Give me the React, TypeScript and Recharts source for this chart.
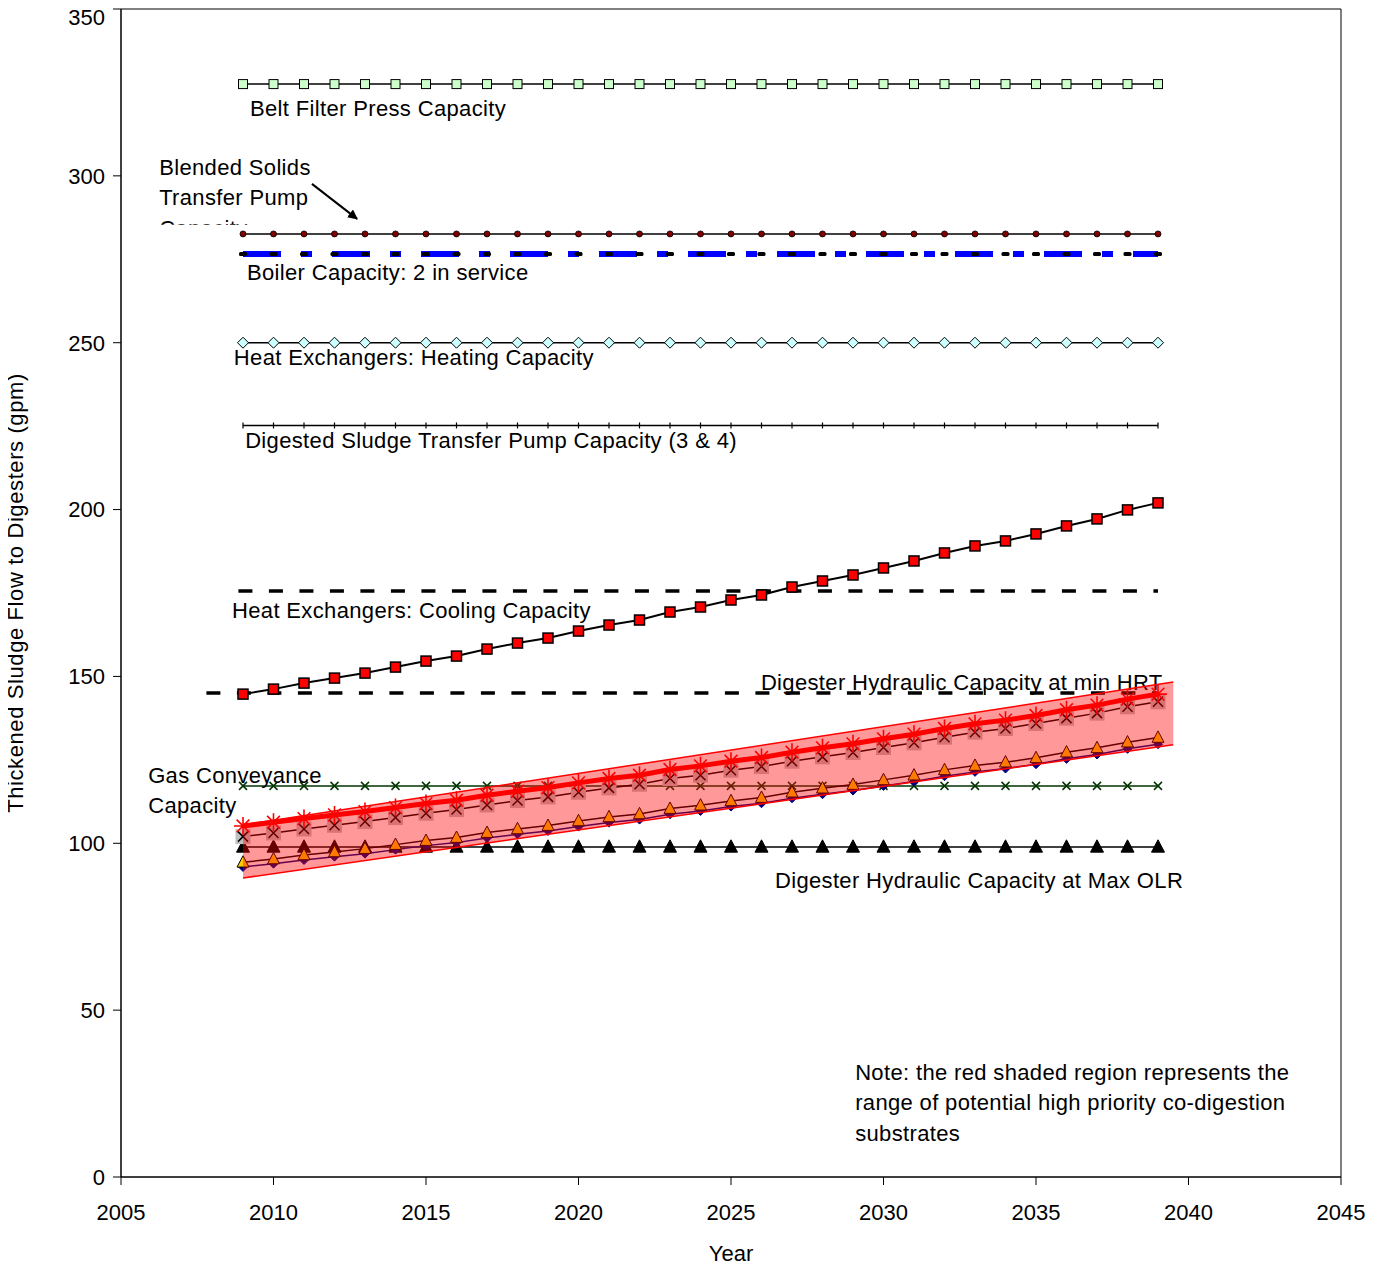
import React from 'react';
import { ComposedChart, Line, Area, XAxis, YAxis, ReferenceArea, ReferenceDot, ReferenceLine } from 'recharts';

const FONT = '"Liberation Sans", Arial, sans-serif';
const W = 1373;
const H = 1261;

// projection years
const years = [
  2009, 2010, 2011, 2012, 2013, 2014, 2015, 2016, 2017, 2018, 2019, 2020, 2021, 2022, 2023, 2024,
  2025, 2026, 2027, 2028, 2029, 2030, 2031, 2032, 2033, 2034, 2035, 2036, 2037, 2038, 2039,
];

// thickened sludge flow, gpm
const flowBaseline = [
  144.7, 146.2, 148.0, 149.5, 151.0, 152.8, 154.6, 156.1, 158.2, 160.0, 161.5, 163.6, 165.4, 166.9, 169.3, 170.8,
  172.9, 174.4, 176.8, 178.6, 180.4, 182.5, 184.6, 187.0, 189.1, 190.6, 192.7, 195.1, 197.2, 199.9, 202.0,
];
const flowCoDigHigh = [
  105.2, 106.3, 107.4, 108.5, 109.5, 110.7, 111.9, 112.9, 114.4, 115.6, 116.7, 118.1, 119.4, 120.4, 122.1, 123.2,
  124.6, 125.7, 127.3, 128.6, 129.8, 131.3, 132.7, 134.4, 135.8, 136.9, 138.3, 140.0, 141.4, 143.2, 144.7,
];
const flowCoDigMidHigh = [
  102.0, 103.1, 104.3, 105.4, 106.5, 107.7, 109.0, 110.1, 111.5, 112.8, 113.9, 115.3, 116.6, 117.7, 119.4, 120.4,
  121.9, 123.0, 124.6, 125.9, 127.2, 128.7, 130.1, 131.8, 133.3, 134.4, 135.9, 137.5, 139.0, 140.9, 142.4,
];
const flowCoDigMidLow = [
  94.3, 95.3, 96.5, 97.4, 98.4, 99.6, 100.8, 101.7, 103.2, 104.3, 105.3, 106.7, 107.9, 108.8, 110.4, 111.4,
  112.7, 113.7, 115.3, 116.5, 117.6, 119.0, 120.4, 122.0, 123.3, 124.3, 125.6, 127.3, 128.6, 130.3, 131.7,
];
const flowCoDigLow = [
  92.9, 93.9, 95.0, 96.0, 96.9, 98.1, 99.3, 100.2, 101.6, 102.7, 103.7, 105.0, 106.2, 107.1, 108.7, 109.7,
  111.0, 112.0, 113.5, 114.7, 115.8, 117.2, 118.5, 120.1, 121.4, 122.4, 123.7, 125.3, 126.6, 128.3, 129.7,
];

// facility capacities, gpm
const beltFilterPressCap = 327.5;
const blendedPumpCap = 282.6;
const boilerCap = 276.6;
const heatingCap = 250;
const digestedPumpCap = 225.2;
const coolingCap = 175.6;
const minHrtCap = 145;
const gasCap = 117.2;
const maxOlrCap = 98.9;
const coolingStart = 2008.85;
const minHrtStart = 2007.8;

// co-digestion range envelope
const bandYears = [2009, 2039.5];
const bandLow = [89.6, 129.5];
const bandHigh = [105.5, 148.3];

const xTicks = [2005, 2010, 2015, 2020, 2025, 2030, 2035, 2040, 2045];
const yTicks = [0, 50, 100, 150, 200, 250, 300, 350];

type Row = { year: number; [k: string]: any };
const rowMap = new Map<number, Row>();
const row = (yr: number) => {
  if (!rowMap.has(yr)) rowMap.set(yr, { year: yr });
  return rowMap.get(yr)!;
};
years.forEach((yr, i) =>
  Object.assign(row(yr), {
    belt: beltFilterPressCap,
    blended: blendedPumpCap,
    boiler: boilerCap,
    heating: heatingCap,
    digested: digestedPumpCap,
    cooling: coolingCap,
    minHrt: minHrtCap,
    gas: gasCap,
    maxOlr: maxOlrCap,
    baseline: flowBaseline[i],
    high: flowCoDigHigh[i],
    midHigh: flowCoDigMidHigh[i],
    midLow: flowCoDigMidLow[i],
    low: flowCoDigLow[i],
  })
);
row(coolingStart).cooling = coolingCap;
row(minHrtStart).minHrt = minHrtCap;
bandYears.forEach((yr, i) => {
  row(yr).band = [bandLow[i], bandHigh[i]];
});
const chartData = [...rowMap.values()].sort((a, b) => a.year - b.year);

// ---- marker shapes ----
const ok = (p: any) => p.cx != null && p.cy != null && p.value != null && !Number.isNaN(p.cy);
const empty = (p: any) => <g key={`e${p.index}`} />;

const squareDot = (s: number, fill: string, stroke: string, sw = 1) => (p: any) =>
  ok(p) ? (
    <rect key={p.index} x={p.cx - s / 2} y={p.cy - s / 2} width={s} height={s} fill={fill} stroke={stroke} strokeWidth={sw} />
  ) : empty(p);

const circleDot = (r: number, fill: string) => (p: any) =>
  ok(p) ? <circle key={p.index} cx={p.cx} cy={p.cy} r={r} fill={fill} stroke="#000" strokeWidth={0.8} /> : empty(p);

const diamondDot = (h: number, fill: string, stroke: string) => (p: any) =>
  ok(p) ? (
    <polygon
      key={p.index}
      points={`${p.cx},${p.cy - h} ${p.cx + h},${p.cy} ${p.cx},${p.cy + h} ${p.cx - h},${p.cy}`}
      fill={fill}
      stroke={stroke}
      strokeWidth={1}
    />
  ) : empty(p);

const triangleDot = (w: number, fill: string, stroke: string) => (p: any) =>
  ok(p) ? (
    <polygon
      key={p.index}
      points={`${p.cx},${p.cy - w * 0.55} ${p.cx + w / 2},${p.cy + w * 0.4} ${p.cx - w / 2},${p.cy + w * 0.4}`}
      fill={fill}
      stroke={stroke}
      strokeWidth={1}
    />
  ) : empty(p);

const crossDot = (h: number, color: string, sw = 1.5) => (p: any) =>
  ok(p) ? (
    <path key={p.index} d={`M${p.cx - h},${p.cy - h}L${p.cx + h},${p.cy + h}M${p.cx - h},${p.cy + h}L${p.cx + h},${p.cy - h}`} stroke={color} strokeWidth={sw} />
  ) : empty(p);

const plusDot = (h: number) => (p: any) =>
  ok(p) ? <path key={p.index} d={`M${p.cx},${p.cy - h}L${p.cx},${p.cy + h}`} stroke="#000" strokeWidth={1.2} /> : empty(p);

const dashDot = (p: any) =>
  ok(p) ? <rect key={p.index} x={p.cx - 4} y={p.cy - 2} width={8} height={4} rx={1.5} fill="#000" /> : empty(p);

const grayBoxX = (p: any) =>
  ok(p) ? (
    <g key={p.index}>
      <rect x={p.cx - 7.5} y={p.cy - 7.5} width={15} height={15} fill="#c0c0c0" />
      <path d={`M${p.cx - 5},${p.cy - 5}L${p.cx + 5},${p.cy + 5}M${p.cx - 5},${p.cy + 5}L${p.cx + 5},${p.cy - 5}`} stroke="#000" strokeWidth={1.5} />
    </g>
  ) : empty(p);

const asteriskDot = (p: any) => {
  if (!ok(p)) return empty(p);
  const r = 9;
  const d = [0, 45, 90, 135]
    .map((a) => {
      const dx = r * Math.cos((a * Math.PI) / 180);
      const dy = r * Math.sin((a * Math.PI) / 180);
      return `M${p.cx - dx},${p.cy - dy}L${p.cx + dx},${p.cy + dy}`;
    })
    .join('');
  return <path key={p.index} d={d} stroke="#ff0000" strokeWidth={1.6} />;
};

// y tick labels drawn at the tick position, no edge nudging
const YTick = (p: any) => (
  <text x={p.x} y={p.y} dy="0.36em" textAnchor="end" fontSize={22} fontFamily={FONT} fill="#000">
    {p.payload.value}
  </text>
);

// ---- text annotations ----
const TextBlock = (props: any) => {
  const { viewBox, lines, clipLast, lh = 30.5 } = props;
  if (!viewBox) return null;
  const x = viewBox.x + viewBox.width / 2;
  const y = viewBox.y + viewBox.height / 2;
  const clipId = `clip-${lines[0].replace(/\W/g, '')}`;
  return (
    <g>
      {clipLast && (
        <defs>
          <clipPath id={clipId}>
            <rect x={x - 5} y={y + (lines.length - 1) * lh - 30} width={300} height={19} />
          </clipPath>
        </defs>
      )}
      {lines.map((t: string, i: number) => (
        <text
          key={i}
          x={x}
          y={y + i * lh}
          fontSize={22}
          letterSpacing={0.35}
          fontFamily={FONT}
          fill="#000"
          clipPath={clipLast && i === lines.length - 1 ? `url(#${clipId})` : undefined}
        >
          {t}
        </text>
      ))}
    </g>
  );
};

const notes: { x: number; y: number; lines: string[]; clipLast?: boolean }[] = [
  { x: 2009.23, y: 317.95, lines: ['Belt Filter Press Capacity'] },
  { x: 2006.25, y: 300.3, lines: ['Blended Solids', 'Transfer Pump', 'Capacity'], clipLast: true },
  { x: 2009.13, y: 268.8, lines: ['Boiler Capacity: 2 in service'] },
  { x: 2008.7, y: 243.3, lines: ['Heat Exchangers: Heating Capacity'] },
  { x: 2009.07, y: 218.5, lines: ['Digested Sludge Transfer Pump Capacity (3 & 4)'] },
  { x: 2008.64, y: 167.5, lines: ['Heat Exchangers: Cooling Capacity'] },
  { x: 2025.98, y: 145.9, lines: ['Digester Hydraulic Capacity at min HRT'] },
  { x: 2005.89, y: 118.1, lines: ['Gas Conveyance', 'Capacity'] },
  { x: 2026.44, y: 86.6, lines: ['Digester Hydraulic Capacity at Max OLR'] },
  {
    x: 2029.07,
    y: 29.1,
    lines: ['Note: the red shaded region represents the', 'range of potential high priority co-digestion', 'substrates'],
  },
];

const arrowFrom = { x: 2011.26, y: 297.6 };
const arrowTo = { x: 2012.74, y: 287.1 };

const tickStyle = { fontSize: 22, fill: '#000', fontFamily: FONT };
const plotMargin = { top: 1, right: 32, left: 58, bottom: 32 };

export default function App() {
  return (
    <div style={{ position: 'relative', width: W, height: H, marginLeft: -8, fontFamily: FONT }}>
      <style>{'.recharts-surface{overflow:visible}'}</style>
      {/* base layer: axes, capacities and flow projections */}
      <ComposedChart width={W} height={H} data={chartData} margin={plotMargin}>
        <defs>
          <marker id="arrowHead" viewBox="0 0 10 10" refX="9" refY="5" markerWidth="5" markerHeight="5" orient="auto">
            <path d="M0,0L10,5L0,10z" fill="#000" />
          </marker>
        </defs>
        <XAxis
          dataKey="year"
          type="number"
          domain={[2005, 2045]}
          ticks={xTicks}
          allowDataOverflow
          height={60}
          tickSize={8}
          tickMargin={19}
          stroke="#000"
          tick={tickStyle}
          label={{
            content: (p: any) => (
              <text x={p.viewBox.x + p.viewBox.width / 2} y={p.viewBox.y + 84} textAnchor="middle" fontSize={22} fontFamily={FONT} fill="#000">
                Year
              </text>
            ),
          }}
        />
        <YAxis
          type="number"
          domain={[0, 350]}
          ticks={yTicks}
          width={63}
          tickSize={8}
          tickMargin={8}
          stroke="#000"
          tick={YTick}
          label={{
            content: (p: any) => {
              const cx = p.viewBox.x - 43;
              const cy = p.viewBox.y + p.viewBox.height / 2;
              return (
                <text
                  x={cx}
                  y={cy}
                  transform={`rotate(-90 ${cx} ${cy})`}
                  textAnchor="middle"
                  dominantBaseline="central"
                  fontSize={22}
                  letterSpacing={0.6}
                  fontFamily={FONT}
                  fill="#000"
                >
                  Thickened Sludge Flow to Digesters (gpm)
                </text>
              );
            },
          }}
        />
        <ReferenceArea x1={2005} x2={2045} y1={0} y2={350} fill="none" stroke="#000" strokeWidth={1} />

        <Line dataKey="belt" stroke="#000" strokeWidth={1.5} dot={squareDot(9, '#ccffcc', '#000')} activeDot={false} isAnimationActive={false} />
        <Line dataKey="blended" stroke="#000" strokeWidth={1.5} dot={circleDot(3, '#800000')} activeDot={false} isAnimationActive={false} />
        <Line dataKey="boiler" stroke="#0000ff" strokeWidth={6} strokeDasharray="38 20 11 20" dot={false} activeDot={false} isAnimationActive={false} />
        <Line dataKey="boiler" stroke="none" dot={dashDot} activeDot={false} isAnimationActive={false} />
        <Line dataKey="heating" stroke="#000" strokeWidth={1.5} dot={diamondDot(5.5, '#ccffff', '#000')} activeDot={false} isAnimationActive={false} />
        <Line dataKey="digested" stroke="#000" strokeWidth={1.5} dot={plusDot(3)} activeDot={false} isAnimationActive={false} />
        <Line dataKey="baseline" stroke="#000" strokeWidth={2} dot={squareDot(10, '#ff0000', '#000', 1.5)} activeDot={false} isAnimationActive={false} />
        <Line dataKey="cooling" stroke="#000" strokeWidth={3.5} strokeDasharray="14 16.5" dot={false} connectNulls activeDot={false} isAnimationActive={false} />
        <Line dataKey="minHrt" stroke="#000" strokeWidth={3.5} strokeDasharray="14 16.5" dot={false} connectNulls activeDot={false} isAnimationActive={false} />
        <Line dataKey="gas" stroke="#003300" strokeWidth={1.5} dot={crossDot(4, '#003300')} activeDot={false} isAnimationActive={false} />
        <Line dataKey="maxOlr" stroke="#000" strokeWidth={1.5} dot={triangleDot(13, '#000', '#000')} activeDot={false} isAnimationActive={false} />
        <Line dataKey="low" stroke="#000080" strokeWidth={1.5} dot={diamondDot(4.5, '#000080', '#000080')} activeDot={false} isAnimationActive={false} />
        <Line dataKey="midLow" stroke="#000" strokeWidth={1.5} dot={triangleDot(12, '#ffcc00', '#000')} activeDot={false} isAnimationActive={false} />
        <Line dataKey="midHigh" stroke="#000" strokeWidth={1.5} dot={grayBoxX} activeDot={false} isAnimationActive={false} />

        <ReferenceLine
          segment={[arrowFrom, arrowTo]}
          stroke="#000"
          shape={(p: any) => <line x1={p.x1} y1={p.y1} x2={p.x2} y2={p.y2} stroke="#000" strokeWidth={2} markerEnd="url(#arrowHead)" />}
        />
        {notes.map((n) => (
          <ReferenceDot
            key={n.lines[0]}
            x={n.x}
            y={n.y}
            r={1}
            fill="none"
            stroke="none"
            label={<TextBlock lines={n.lines} clipLast={n.clipLast} />}
          />
        ))}
      </ComposedChart>

      {/* top layer: translucent co-digestion envelope and its upper bound */}
      <div style={{ position: 'absolute', left: 0, top: 0, pointerEvents: 'none' }}>
        <ComposedChart
          width={W}
          height={H}
          data={chartData}
          margin={{ top: plotMargin.top, right: plotMargin.right, left: plotMargin.left + 63, bottom: plotMargin.bottom + 60 }}
        >
          <XAxis dataKey="year" type="number" domain={[2005, 2045]} allowDataOverflow hide />
          <YAxis type="number" domain={[0, 350]} hide />
          <Area
            dataKey="band"
            stroke="#ff0000"
            strokeWidth={1.5}
            fill="#ff0000"
            fillOpacity={0.4}
            connectNulls
            dot={false}
            activeDot={false}
            isAnimationActive={false}
          />
          <Line dataKey="high" stroke="#ff0000" strokeWidth={5} dot={asteriskDot} activeDot={false} isAnimationActive={false} />
        </ComposedChart>
      </div>
    </div>
  );
}
